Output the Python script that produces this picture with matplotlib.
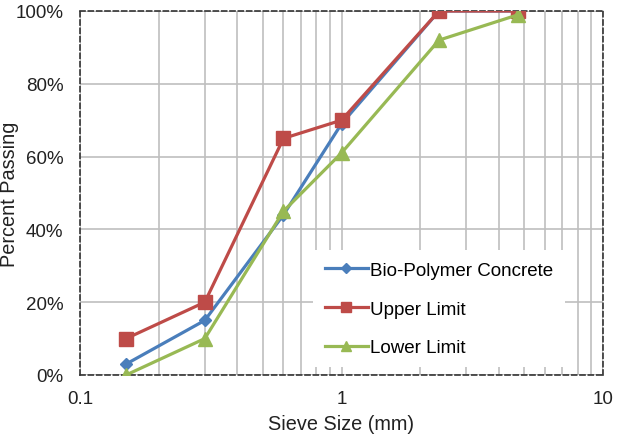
import matplotlib
matplotlib.use("Agg")
import matplotlib.pyplot as plt
from matplotlib.ticker import FuncFormatter, FixedLocator

plt.rcParams['font.family'] = ['Liberation Sans', 'DejaVu Sans']

# sieve sizes (mm) and percent passing
sieve = [0.15, 0.3, 0.6, 1.0, 2.36, 4.75]
bio_polymer = [3, 15, 44, 69, 100, 100]
upper_limit = [10, 20, 65, 70, 100, 100]
lower_limit = [0, 10, 45, 61, 92, 99]

fig = plt.figure(figsize=(6.2, 4.35), dpi=100)
ax = fig.add_axes([80 / 620, 1 - 376 / 435, 523 / 620, 364 / 435])

ax.plot(sieve, bio_polymer, color='#4A7EBB', lw=2.3, marker='D', ms=6, label='Bio-Polymer Concrete', zorder=3)
ax.plot(sieve, upper_limit, color='#BE4B48', lw=2.3, marker='s', ms=9.5, label='Upper Limit', zorder=3)
ax.plot(sieve, lower_limit, color='#98B954', lw=2.3, marker='^', ms=9.5, label='Lower Limit', zorder=4)

ax.set_xscale('log')
ax.set_xlim(0.1, 10)
ax.set_ylim(0, 100)
ax.xaxis.set_major_locator(FixedLocator([0.1, 1, 10]))
ax.xaxis.set_major_formatter(FuncFormatter(lambda v, p: '%g' % v))
ax.xaxis.set_minor_locator(FixedLocator([k * d for d in (0.1, 1) for k in range(2, 10)]))
ax.xaxis.set_minor_formatter(FuncFormatter(lambda v, p: ''))
ax.set_yticks(range(0, 101, 20))
ax.yaxis.set_major_formatter(FuncFormatter(lambda v, p: '%d%%' % v))

ax.grid(True, which='both', color='#BFBFBF', lw=1.2)
ax.set_axisbelow(True)
ax.tick_params(which='both', length=0, labelsize=13.5, colors='#222222')
ax.tick_params(axis='x', pad=11)
ax.tick_params(axis='y', pad=12)

for s in ax.spines.values():
    s.set_linestyle((0, (3, 2)))
    s.set_color('#333333')
    s.set_linewidth(1.2)

ax.set_xlabel('Sieve Size (mm)', fontsize=14.3, color='#222222')
ax.set_ylabel('Percent Passing', fontsize=14.3, color='#222222')
ax.xaxis.set_label_coords(0.5, -0.108)
ax.yaxis.set_label_coords(-0.117, 0.5)

leg = ax.legend(loc='lower right', bbox_to_anchor=(0.945, -0.005), frameon=True, fancybox=False,
                edgecolor='none', framealpha=1, fontsize=13.5, handlelength=2.3,
                handletextpad=0.15, labelspacing=1.15, borderpad=0.6, markerscale=0.8)

fig.savefig('out.png', dpi=100)
